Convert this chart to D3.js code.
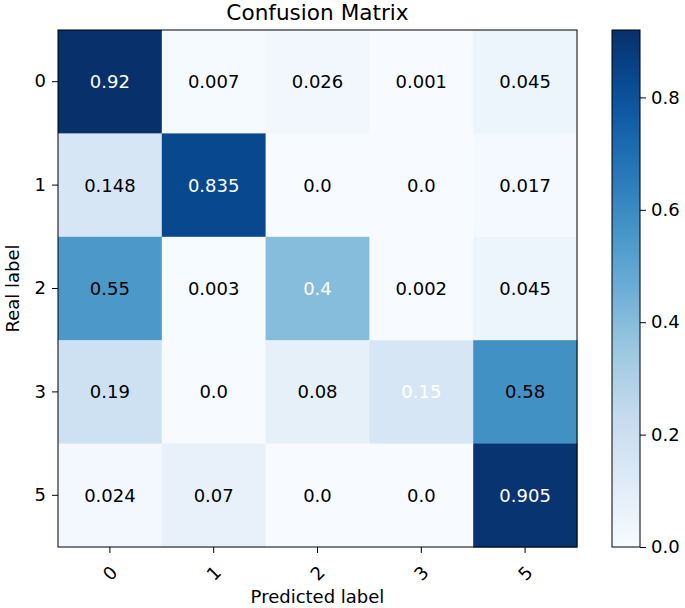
<!DOCTYPE html>
<html lang="en">
<head>
    <meta charset="UTF-8">
    <title>Confusion Matrix</title>
    <script src="https://d3js.org/d3.v7.min.js"></script>
    <style>
        body { margin: 0; background: #fff; }
        text { font-family: "DejaVu Sans", sans-serif; fill: #000; }
    </style>
</head>
<body>
<div id="chart"></div>
<script>
    const realLabels = ["0", "1", "2", "3", "5"];
    const predLabels = ["0", "1", "2", "3", "5"];
    const values = [
        [0.92, 0.007, 0.026, 0.001, 0.045],
        [0.148, 0.835, 0.0, 0.0, 0.017],
        [0.55, 0.003, 0.4, 0.002, 0.045],
        [0.19, 0.0, 0.08, 0.15, 0.58],
        [0.024, 0.07, 0.0, 0.0, 0.905]
    ];
    const valueText = [
        ["0.92", "0.007", "0.026", "0.001", "0.045"],
        ["0.148", "0.835", "0.0", "0.0", "0.017"],
        ["0.55", "0.003", "0.4", "0.002", "0.045"],
        ["0.19", "0.0", "0.08", "0.15", "0.58"],
        ["0.024", "0.07", "0.0", "0.0", "0.905"]
    ];
    const colorbarTicks = [0.0, 0.2, 0.4, 0.6, 0.8];

    const width = 685, height = 608;
    const m = { left: 58, right: 577, top: 30, bottom: 547 };

    // matplotlib "Blues" stops
    const blues = ["#f7fbff", "#deebf7", "#c6dbef", "#9ecae1", "#6baed6", "#4292c6", "#2171b5", "#08519c", "#08306b"];
    const vmax = 0.92;
    const color = d3.scaleLinear()
        .domain(blues.map((_, i) => i / (blues.length - 1) * vmax))
        .range(blues)
        .clamp(true);

    const svg = d3.select("#chart").append("svg")
        .attr("width", width)
        .attr("height", height);

    const x = d3.scaleBand().domain(predLabels).range([m.left, m.right]);
    const y = d3.scaleBand().domain(realLabels).range([m.top, m.bottom]);

    const cells = [];
    values.forEach((row, i) => row.forEach((v, j) => cells.push({ i, j, v, t: valueText[i][j] })));

    svg.append("g").selectAll("rect")
        .data(cells)
        .enter().append("rect")
        .attr("x", d => x(predLabels[d.j]))
        .attr("y", d => y(realLabels[d.i]))
        .attr("width", x.bandwidth() + 0.5)
        .attr("height", y.bandwidth() + 0.5)
        .attr("fill", d => color(d.v));

    svg.append("g").selectAll("text")
        .data(cells)
        .enter().append("text")
        .attr("x", d => x(predLabels[d.j]) + x.bandwidth() / 2)
        .attr("y", d => y(realLabels[d.i]) + y.bandwidth() / 2)
        .attr("text-anchor", "middle")
        .attr("dominant-baseline", "central")
        .style("font-size", "18px")
        .style("fill", d => d.i === d.j ? "#fff" : "#000")
        .text(d => d.t);

    // frame
    svg.append("rect")
        .attr("x", m.left).attr("y", m.top)
        .attr("width", m.right - m.left).attr("height", m.bottom - m.top)
        .attr("fill", "none").attr("stroke", "#000").attr("stroke-width", 1);

    // x axis
    const xAxis = svg.append("g")
        .attr("transform", `translate(0,${m.bottom})`)
        .call(d3.axisBottom(x).tickSize(6).tickPadding(6));
    xAxis.select(".domain").remove();
    xAxis.selectAll("text")
        .style("font-size", "18px")
        .attr("y", 0).attr("dy", 0)
        .attr("text-anchor", "middle")
        .attr("dominant-baseline", "central")
        .attr("transform", "translate(0,26) rotate(-45)");

    // y axis
    const yAxis = svg.append("g")
        .attr("transform", `translate(${m.left},0)`)
        .call(d3.axisLeft(y).tickSize(6).tickPadding(6));
    yAxis.select(".domain").remove();
    yAxis.selectAll("text").style("font-size", "18px");

    svg.append("text")
        .attr("x", (m.left + m.right) / 2)
        .attr("y", 20)
        .attr("text-anchor", "middle")
        .style("font-size", "21.6px")
        .text("Confusion Matrix");

    svg.append("text")
        .attr("x", (m.left + m.right) / 2)
        .attr("y", 603)
        .attr("text-anchor", "middle")
        .style("font-size", "18px")
        .text("Predicted label");

    svg.append("text")
        .attr("transform", `translate(19,${(m.top + m.bottom) / 2}) rotate(-90)`)
        .attr("text-anchor", "middle")
        .style("font-size", "18px")
        .text("Real label");

    // colorbar
    const cb = { x: 612, w: 28 };
    const cy = d3.scaleLinear().domain([0, vmax]).range([m.bottom, m.top]);
    const defs = svg.append("defs");
    const grad = defs.append("linearGradient")
        .attr("id", "cbgrad")
        .attr("x1", 0).attr("y1", 1).attr("x2", 0).attr("y2", 0);
    d3.range(0, 1.0001, 0.05).forEach(t => {
        grad.append("stop")
            .attr("offset", t)
            .attr("stop-color", color(t * vmax));
    });
    svg.append("rect")
        .attr("x", cb.x).attr("y", m.top)
        .attr("width", cb.w).attr("height", m.bottom - m.top)
        .attr("fill", "url(#cbgrad)")
        .attr("stroke", "#000").attr("stroke-width", 1);

    const cAxis = svg.append("g")
        .attr("transform", `translate(${cb.x + cb.w},0)`)
        .call(d3.axisRight(cy).tickValues(colorbarTicks).tickFormat(d3.format(".1f")).tickSize(6).tickPadding(5));
    cAxis.select(".domain").remove();
    cAxis.selectAll("text").style("font-size", "18px");
</script>
</body>
</html>
